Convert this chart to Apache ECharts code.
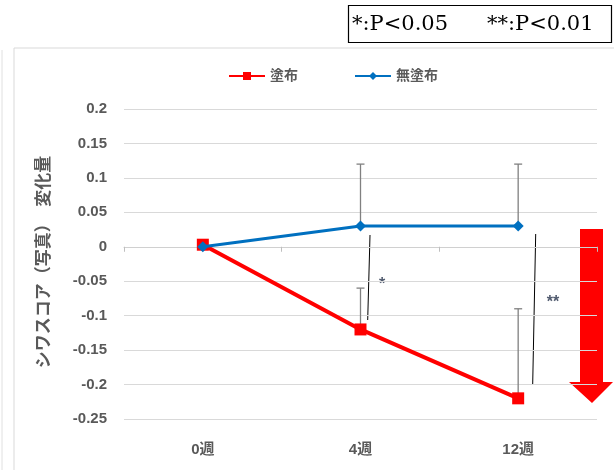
<!DOCTYPE html>
<html><head><meta charset="utf-8">
<script src="https://cdn.jsdelivr.net/npm/echarts@6/dist/echarts.min.js"></script>
<style>html,body{margin:0;padding:0;background:#fff}#c{width:614px;height:470px}</style>
</head><body><div id="c"></div>
<script>
var categories = ['0週', '4週', '12週'];
var coated = [0.003, -0.12, -0.22];
var coatedErr = [null, -0.06, -0.09];
var uncoated = [0, 0.03, 0.03];
var uncoatedErr = [null, 0.12, 0.12];
var yTicks = {min: -0.25, max: 0.2, interval: 0.05};

var chart = echarts.init(document.getElementById('c'), null, {renderer: 'canvas'});
var labelFont = "'Liberation Sans','Noto Sans CJK JP',sans-serif";

function errSeries(vals, errs) {
  var data = [];
  for (var i = 0; i < vals.length; i++) if (errs[i] !== null) data.push([i, vals[i], errs[i]]);
  return {
    type: 'custom', xAxisIndex: 0, z: 1, silent: true,
    renderItem: function (params, api) {
      var p0 = api.coord([api.value(0), api.value(1)]);
      var p1 = api.coord([api.value(0), api.value(2)]);
      var w = 4;
      var st = {stroke: '#808080', lineWidth: 1.3};
      return {type: 'group', children: [
        {type: 'line', shape: {x1: p0[0], y1: p0[1], x2: p1[0], y2: p1[1]}, style: st},
        {type: 'line', shape: {x1: p1[0] - w, y1: p1[1], x2: p1[0] + w, y2: p1[1]}, style: st}
      ]};
    },
    data: data
  };
}

chart.setOption({
  animation: false,
  grid: {left: 124, right: 17, top: 109, bottom: 51},
  legend: {
    top: 64, left: 223, itemGap: 56, itemWidth: 36, itemHeight: 10,
    textStyle: {color: '#595959', fontSize: 14, fontFamily: labelFont, fontWeight: 'bold'},
    data: ['塗布', '無塗布']
  },
  xAxis: [{
    type: 'category', data: categories, position: 'bottom',
    axisLine: {show: true, onZero: true, lineStyle: {color: '#d0d0d0', width: 1}},
    axisTick: {show: true, length: 5, lineStyle: {color: '#bfbfbf'}},
    axisLabel: {show: false}, splitLine: {show: false}
  }, {
    type: 'category', data: categories, position: 'bottom',
    axisLine: {show: false, onZero: false}, axisTick: {show: false},
    axisLabel: {margin: 23, color: '#595959', fontSize: 15, fontWeight: 'bold', fontFamily: labelFont}
  }],
  yAxis: {
    type: 'value', min: yTicks.min, max: yTicks.max, interval: yTicks.interval,
    axisLine: {show: false}, axisTick: {show: false},
    axisLabel: {margin: 17, color: '#595959', fontSize: 15, fontWeight: 'bold', fontFamily: labelFont,
      formatter: function (v) { return String(Math.round(v * 100) / 100); }},
    splitLine: {lineStyle: {color: '#d9d9d9', width: 1}}
  },
  series: [
    errSeries(coated, coatedErr),
    errSeries(uncoated, uncoatedErr),
    {name: '塗布', type: 'line', xAxisIndex: 0, data: coated, z: 3,
      lineStyle: {color: '#ff0000', width: 4}, itemStyle: {color: '#ff0000'},
      symbol: 'rect', symbolSize: 12, showSymbol: true},
    {name: '無塗布', type: 'line', xAxisIndex: 0, data: uncoated, z: 4,
      lineStyle: {color: '#0070c0', width: 3}, itemStyle: {color: '#0070c0'},
      symbol: 'diamond', symbolSize: 11, showSymbol: true}
  ],
  graphic: [
    {type: 'line', shape: {x1: 14, y1: 48, x2: 614, y2: 48}, style: {stroke: '#d9d9d9', lineWidth: 1}},
    {type: 'line', shape: {x1: 14, y1: 48, x2: 14, y2: 470}, style: {stroke: '#d9d9d9', lineWidth: 1}},
    {type: 'line', shape: {x1: 2, y1: 50, x2: 2, y2: 470}, style: {stroke: '#e0e0e0', lineWidth: 1}},
    {type: 'rect', shape: {x: 348.5, y: 5.5, width: 263, height: 37}, style: {fill: '#fff', stroke: '#000', lineWidth: 1.2}},
    {type: 'text', x: 352, y: 25, style: {text: '*:P<0.05', fill: '#000', font: "21px 'DejaVu Serif','Liberation Serif',serif", verticalAlign: 'middle'}},
    {type: 'text', x: 487, y: 25, style: {text: '**:P<0.01', fill: '#000', font: "21px 'DejaVu Serif','Liberation Serif',serif", verticalAlign: 'middle'}},
    {type: 'text', x: 43, y: 262, rotation: Math.PI / 2,
      style: {text: 'シワスコア（写真）　変化量', fill: '#595959', font: "bold 17px 'Noto Sans CJK JP',sans-serif", align: 'center', verticalAlign: 'middle'}},
    {type: 'line', shape: {x1: 370, y1: 235, x2: 367.7, y2: 320}, style: {stroke: '#000', lineWidth: 1}},
    {type: 'text', x: 382, y: 285, style: {text: '*', fill: '#505a6e', font: "bold 16px 'Liberation Sans',sans-serif", align: 'center', verticalAlign: 'middle'}},
    {type: 'line', shape: {x1: 535.7, y1: 234, x2: 532.7, y2: 384}, style: {stroke: '#000', lineWidth: 1}},
    {type: 'text', x: 553, y: 303, style: {text: '**', fill: '#505a6e', font: "bold 16px 'Liberation Sans',sans-serif", align: 'center', verticalAlign: 'middle'}},
    {type: 'polygon', shape: {points: [[580, 229], [603, 229], [603, 382], [613, 382], [592, 403], [569, 382], [580, 382]]}, style: {fill: '#ff0000'}}
  ]
});
</script></body></html>
